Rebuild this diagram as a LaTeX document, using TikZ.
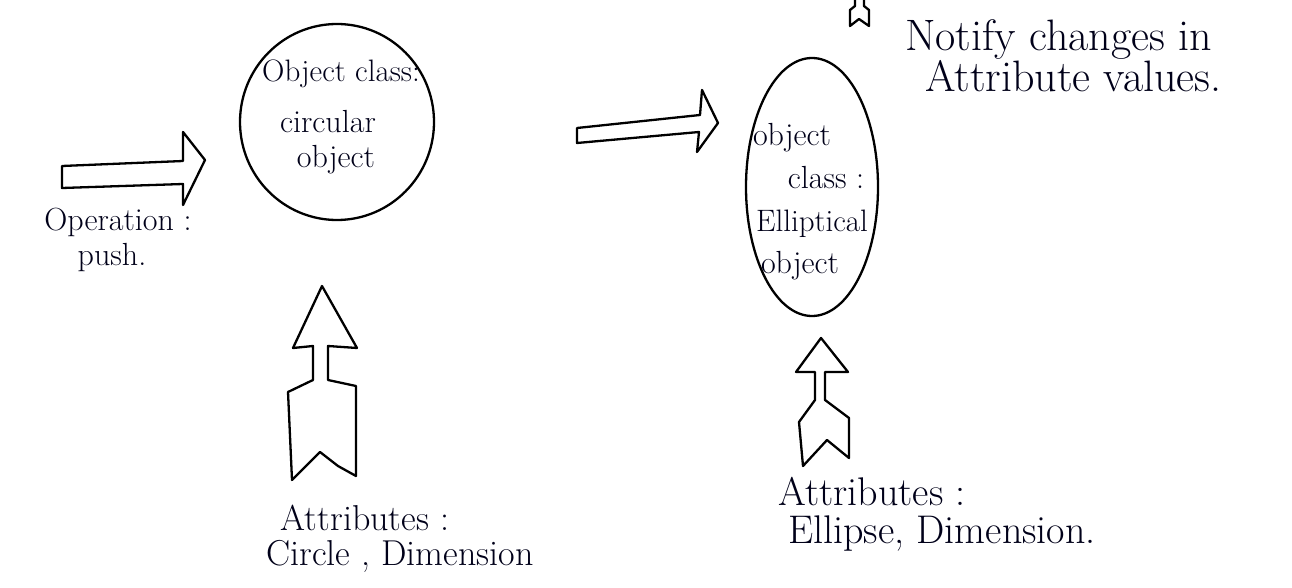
\documentclass[tikz,border=0pt]{standalone}
\usetikzlibrary{shapes.geometric}
\begin{document}
\begin{tikzpicture}[x=1pt,y=-1pt,
  ink/.style={draw=black, line width=2.3pt, line join=round, line cap=round},
  txt/.style={inner sep=0pt, text=black!90!blue, font=\fontsize{#1}{#1}\selectfont},
  txt/.default=34,
  blob/.style={ink, ellipse, inner sep=0pt}]
\useasboundingbox[fill=white] (0,0) rectangle (1292,588);

% object nodes
\node[blob, minimum width=194pt, minimum height=196pt] (circ) at (337,122) {};
\node[blob, minimum width=132pt, minimum height=258pt] (ell) at (812,187) {};

% texts inside the circle
\node[txt=31] (c1) at (341,74) {Object class:};
\node[txt=32] (c2) at (328,122) {circular};
\node[txt=32] (c3) at (336,160) {object};

% texts inside the ellipse
\node[txt=32] (e1) at (792,138) {object};
\node[txt=32] (e2) at (826,178) {class :};
\node[txt=31] (e3) at (812,224) {Elliptical};
\node[txt=32] (e4) at (800,266) {object};

% labels
\node[txt=32] (op1) at (118,222) {Operation :};
\node[txt=32] (op2) at (112,258) {push.};
\node[txt=44, anchor=west] (n1) at (905,40) {Notify changes in};
\node[txt=44, anchor=west] (n2) at (925,76) {Attribute values.};
\node[txt=36] (a1) at (365,518) {Attributes :};
\node[txt=36] (a2) at (400,556) {Circle , Dimension};
\node[txt=40] (b1) at (872,492) {Attributes :};
\node[txt=40] (b2) at (942,534) {Ellipse, Dimension.};

% hollow arrow: operation into the circle
\draw[ink] (62,188) -- (62,166) -- (183,161) -- (183,132) -- (205,160) -- (183,205) -- (183,184) -- cycle;
% hollow arrow: circle to ellipse
\draw[ink] (577,143) -- (577,128) -- (700,115) -- (702,90) -- (718,123) -- (697,152) -- (699,132) -- cycle;

% hollow up arrow: attributes into the circle
\draw[ink] (322,286) -- (357,348) -- (328,346) -- (328,380) -- (356,386) -- (356,476)
  -- (338,466) -- (320,452) -- (292,480) -- (288,392) -- (313,380) -- (313,346) -- (293,348) -- cycle;
% hollow up arrow: attributes into the ellipse
\draw[ink] (821,338) -- (848,372) -- (825,372) -- (825,400) -- (849,418) -- (849,458)
  -- (827,440) -- (803,466) -- (799,422) -- (815,400) -- (815,372) -- (796,372) -- cycle;

% notify stub leaving the ellipse upwards
\draw[ink] (855,0) -- (855,6) -- (850,10) -- (850,26) -- (859,19) -- (869,26) -- (869,10) -- (864,6) -- (864,0);
\end{tikzpicture}
\end{document}
